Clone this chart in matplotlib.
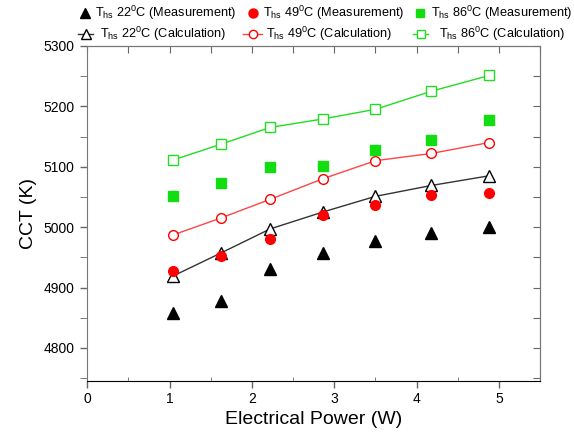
import matplotlib
matplotlib.use("Agg")
import matplotlib.pyplot as plt
from matplotlib.ticker import MultipleLocator
from matplotlib.lines import Line2D

plt.rcParams['font.family'] = ['Liberation Sans', 'DejaVu Sans']
plt.rcParams['mathtext.fontset'] = 'custom'
plt.rcParams['mathtext.rm'] = 'Liberation Sans'
plt.rcParams['mathtext.it'] = 'Liberation Sans'

power = [1.04, 1.62, 2.22, 2.86, 3.50, 4.18, 4.88]
meas_22 = [4858, 4878, 4931, 4957, 4977, 4990, 5001]
meas_49 = [4927, 4952, 4980, 5020, 5037, 5054, 5056]
meas_86 = [5051, 5073, 5100, 5101, 5128, 5145, 5177]
calc_22 = [4919, 4957, 4997, 5025, 5051, 5069, 5085]
calc_49 = [4987, 5015, 5046, 5080, 5110, 5122, 5140]
calc_86 = [5111, 5137, 5165, 5179, 5195, 5225, 5251]

labels_meas = [r'T$_{\rm hs}$ 22$^{\rm 0}$C (Measurement)',
               r'T$_{\rm hs}$ 49$^{\rm 0}$C (Measurement)',
               r'T$_{\rm hs}$ 86$^{\rm 0}$C (Measurement)']
labels_calc = [r'T$_{\rm hs}$ 22$^{\rm 0}$C (Calculation)',
               r'T$_{\rm hs}$ 49$^{\rm 0}$C (Calculation)',
               r'T$_{\rm hs}$ 86$^{\rm 0}$C (Calculation)']

W, H = 574, 437
fig = plt.figure(figsize=(W / 100, H / 100), dpi=100)
ax = fig.add_axes([0.152, 0.129, 0.789, 0.766])

green = '#22dd22'
ax.plot(power, calc_86, color=green, lw=1, marker='s', ms=6.5, mfc='white', mec=green, mew=1)
ax.plot(power, calc_49, color='#ff4444', lw=1, marker='o', ms=7, mfc='white', mec='red', mew=1)
ax.plot(power, calc_22, color='#333333', lw=1, marker='^', ms=8, mfc='white', mec='black', mew=1)
ax.plot(power, meas_86, ls='none', marker='s', ms=6.5, color='#11dd11')
ax.plot(power, meas_49, ls='none', marker='o', ms=7, color='red')
ax.plot(power, meas_22, ls='none', marker='^', ms=8, color='black')

ax.set_xlim(0, 5.5)
ax.set_ylim(4746, 5300)
ax.xaxis.set_major_locator(MultipleLocator(1))
ax.xaxis.set_minor_locator(MultipleLocator(0.5))
ax.yaxis.set_major_locator(MultipleLocator(100))
ax.yaxis.set_minor_locator(MultipleLocator(50))
ax.tick_params(axis='both', which='major', labelsize=10, length=5, width=1, color='#666666')
ax.tick_params(axis='x', which='major', direction='out', pad=3)
ax.tick_params(axis='x', which='minor', direction='in', length=3, color='#666666')
ax.tick_params(axis='y', which='both', direction='out', length=5, color='#666666', pad=4)
for sp in ax.spines.values():
    sp.set_color('#777777')
ax.spines['bottom'].set_color('black')

ax2 = ax.secondary_yaxis('right')
ax2.yaxis.set_major_locator(MultipleLocator(50))
ax2.tick_params(direction='in', length=5, color='#666666', labelright=False)
ax3 = ax.secondary_xaxis('top')
ax3.xaxis.set_major_locator(MultipleLocator(0.5))
ax3.tick_params(direction='in', length=5, color='#666666', labeltop=False)
ax2.spines['right'].set_color('#777777')
ax3.spines['top'].set_color('#777777')

ax.set_xlabel('Electrical Power (W)', fontsize=14, labelpad=4)
ax.set_ylabel('CCT (K)', fontsize=14, labelpad=5)


def fx(px):
    return px / W


def fy(py):
    return 1 - py / H


LEG_FS = 9.2

# legend row 1 (measurement)
row1_y, row1_base = 12.5, 17.5
meas_handles = [dict(marker='^', ms=7, color='black'),
                dict(marker='o', ms=6.5, color='red'),
                dict(marker='s', ms=5.5, color='#11dd11')]
for mx, tx, hd, lab in zip([85, 253, 420], [95, 263, 431], meas_handles, labels_meas):
    fig.add_artist(Line2D([fx(mx)], [fy(row1_y)], ls='none', transform=fig.transFigure, **hd))
    fig.text(fx(tx), fy(row1_base), lab, fontsize=LEG_FS, va='baseline', ha='left')

# legend row 2 (calculation)
row2_y, row2_base = 33.5, 38
calc_handles = [dict(color='#333333', marker='^', ms=7, mfc='white', mec='black'),
                dict(color='#ff4444', marker='o', ms=6, mfc='white', mec='red'),
                dict(color=green, marker='s', ms=5.5, mfc='white', mec=green)]
for (l0, l1), tx, hd, lab in zip([(78, 93), (243, 262), (413, 428)], [100, 266, 439],
                                 calc_handles, labels_calc):
    fig.add_artist(Line2D([fx(l0), fx(l1)], [fy(row2_y)] * 2, lw=1, transform=fig.transFigure,
                          color=hd['color']))
    fig.add_artist(Line2D([fx((l0 + l1) / 2)], [fy(row2_y)], ls='none', transform=fig.transFigure,
                          marker=hd['marker'], ms=hd['ms'], mfc=hd['mfc'], mec=hd['mec'], mew=1))
    fig.text(fx(tx), fy(row2_base), lab, fontsize=LEG_FS, va='baseline', ha='left')

fig.savefig('out.png', dpi=100)
